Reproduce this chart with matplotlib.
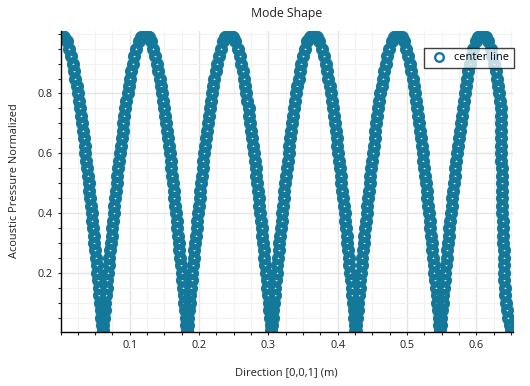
import matplotlib
matplotlib.use("Agg")
import matplotlib.pyplot as plt
from matplotlib.lines import Line2D
from matplotlib.ticker import FixedLocator, MultipleLocator

# pressure levels read along each branch (falling: peak -> node, rising: node -> peak)
p_fall = [1.0, 0.99, 0.975, 0.95, 0.925, 0.9, 0.875, 0.85, 0.825, 0.8, 0.775, 0.75,
          0.725, 0.7, 0.675, 0.65, 0.625, 0.6, 0.575, 0.55, 0.525, 0.5, 0.475, 0.45,
          0.425, 0.4, 0.375, 0.35, 0.325, 0.3, 0.275, 0.25, 0.225, 0.2, 0.175, 0.15,
          0.125, 0.1, 0.075, 0.05, 0.025, 0.005]
p_rise = [0.005, 0.025, 0.05, 0.075, 0.1, 0.125, 0.15, 0.175, 0.2, 0.225, 0.25, 0.275,
          0.3, 0.325, 0.35, 0.375, 0.4, 0.425, 0.45, 0.475, 0.5, 0.525, 0.55, 0.575,
          0.6, 0.625, 0.65, 0.675, 0.7, 0.725, 0.75, 0.775, 0.8, 0.825, 0.85, 0.875,
          0.9, 0.925, 0.95, 0.975, 0.99]

# positions along the center line (m), lobe by lobe
z_lobe1 = [0.0000, 0.0055, 0.0087, 0.0123, 0.0151, 0.0175, 0.0196, 0.0215, 0.0233, 0.0249,
           0.0265, 0.0280, 0.0294, 0.0308, 0.0321, 0.0334, 0.0347, 0.0359, 0.0371, 0.0383,
           0.0394, 0.0405, 0.0417, 0.0427, 0.0438, 0.0449, 0.0459, 0.0470, 0.0480, 0.0490,
           0.0500, 0.0510, 0.0520, 0.0530, 0.0540, 0.0550, 0.0560, 0.0569, 0.0579, 0.0589,
           0.0598, 0.0606,
           0.0610, 0.0618, 0.0627, 0.0637, 0.0647, 0.0656, 0.0666, 0.0676, 0.0686, 0.0696,
           0.0706, 0.0716, 0.0726, 0.0736, 0.0746, 0.0757, 0.0767, 0.0778, 0.0789, 0.0799,
           0.0811, 0.0822, 0.0833, 0.0845, 0.0857, 0.0869, 0.0882, 0.0895, 0.0908, 0.0922,
           0.0936, 0.0951, 0.0967, 0.0983, 0.1001, 0.1020, 0.1041, 0.1065, 0.1093, 0.1129,
           0.1161]
z_lobe2 = [0.1216, 0.1271, 0.1303, 0.1339, 0.1367, 0.1391, 0.1412, 0.1431, 0.1449, 0.1465,
           0.1481, 0.1496, 0.1510, 0.1524, 0.1537, 0.1550, 0.1563, 0.1575, 0.1587, 0.1599,
           0.1610, 0.1621, 0.1633, 0.1643, 0.1654, 0.1665, 0.1675, 0.1686, 0.1696, 0.1706,
           0.1716, 0.1726, 0.1736, 0.1746, 0.1756, 0.1766, 0.1776, 0.1785, 0.1795, 0.1805,
           0.1814, 0.1822,
           0.1826, 0.1834, 0.1843, 0.1853, 0.1863, 0.1872, 0.1882, 0.1892, 0.1902, 0.1912,
           0.1922, 0.1932, 0.1942, 0.1952, 0.1962, 0.1973, 0.1983, 0.1994, 0.2005, 0.2015,
           0.2027, 0.2038, 0.2049, 0.2061, 0.2073, 0.2085, 0.2098, 0.2111, 0.2124, 0.2138,
           0.2152, 0.2167, 0.2183, 0.2199, 0.2217, 0.2236, 0.2257, 0.2281, 0.2309, 0.2345,
           0.2377]
z_lobe3 = [0.2432, 0.2487, 0.2519, 0.2555, 0.2583, 0.2607, 0.2628, 0.2647, 0.2665, 0.2681,
           0.2697, 0.2712, 0.2726, 0.2740, 0.2753, 0.2766, 0.2779, 0.2791, 0.2803, 0.2815,
           0.2826, 0.2837, 0.2849, 0.2859, 0.2870, 0.2881, 0.2891, 0.2902, 0.2912, 0.2922,
           0.2932, 0.2942, 0.2952, 0.2962, 0.2972, 0.2982, 0.2992, 0.3001, 0.3011, 0.3021,
           0.3030, 0.3038,
           0.3042, 0.3050, 0.3059, 0.3069, 0.3079, 0.3088, 0.3098, 0.3108, 0.3118, 0.3128,
           0.3138, 0.3148, 0.3158, 0.3168, 0.3178, 0.3189, 0.3199, 0.3210, 0.3221, 0.3231,
           0.3243, 0.3254, 0.3265, 0.3277, 0.3289, 0.3301, 0.3314, 0.3327, 0.3340, 0.3354,
           0.3368, 0.3383, 0.3399, 0.3415, 0.3433, 0.3452, 0.3473, 0.3497, 0.3525, 0.3561,
           0.3593]
z_lobe4 = [0.3648, 0.3703, 0.3735, 0.3771, 0.3799, 0.3823, 0.3844, 0.3863, 0.3881, 0.3897,
           0.3913, 0.3928, 0.3942, 0.3956, 0.3969, 0.3982, 0.3995, 0.4007, 0.4019, 0.4031,
           0.4042, 0.4053, 0.4065, 0.4075, 0.4086, 0.4097, 0.4107, 0.4118, 0.4128, 0.4138,
           0.4148, 0.4158, 0.4168, 0.4178, 0.4188, 0.4198, 0.4208, 0.4217, 0.4227, 0.4237,
           0.4246, 0.4254,
           0.4258, 0.4266, 0.4275, 0.4285, 0.4295, 0.4304, 0.4314, 0.4324, 0.4334, 0.4344,
           0.4354, 0.4364, 0.4374, 0.4384, 0.4394, 0.4405, 0.4415, 0.4426, 0.4437, 0.4447,
           0.4459, 0.4470, 0.4481, 0.4493, 0.4505, 0.4517, 0.4530, 0.4543, 0.4556, 0.4570,
           0.4584, 0.4599, 0.4615, 0.4631, 0.4649, 0.4668, 0.4689, 0.4713, 0.4741, 0.4777,
           0.4809]
z_lobe5 = [0.4864, 0.4919, 0.4951, 0.4987, 0.5015, 0.5039, 0.5060, 0.5079, 0.5097, 0.5113,
           0.5129, 0.5144, 0.5158, 0.5172, 0.5185, 0.5198, 0.5211, 0.5223, 0.5235, 0.5247,
           0.5258, 0.5269, 0.5281, 0.5291, 0.5302, 0.5313, 0.5323, 0.5334, 0.5344, 0.5354,
           0.5364, 0.5374, 0.5384, 0.5394, 0.5404, 0.5414, 0.5424, 0.5433, 0.5443, 0.5453,
           0.5462, 0.5470,
           0.5474, 0.5482, 0.5491, 0.5501, 0.5511, 0.5520, 0.5530, 0.5540, 0.5550, 0.5560,
           0.5570, 0.5580, 0.5590, 0.5600, 0.5610, 0.5621, 0.5631, 0.5642, 0.5653, 0.5663,
           0.5675, 0.5686, 0.5697, 0.5709, 0.5721, 0.5733, 0.5746, 0.5759, 0.5772, 0.5786,
           0.5800, 0.5815, 0.5831, 0.5847, 0.5865, 0.5884, 0.5905, 0.5929, 0.5957, 0.5993,
           0.6025]
# last peak and the steep drop at the end of the line
z_end = [0.6080, 0.6135, 0.6167, 0.6203, 0.6231, 0.6255, 0.6276, 0.6295, 0.6313, 0.6329,
         0.6345, 0.6350, 0.6352, 0.6354, 0.6355, 0.6357, 0.6359, 0.6360, 0.6361, 0.6362,
         0.6363, 0.6365, 0.6367, 0.6369, 0.6371, 0.6374, 0.6377, 0.6380, 0.6384, 0.6387,
         0.6390, 0.6393, 0.6396, 0.6399, 0.6402, 0.6405, 0.6410, 0.6422, 0.6438, 0.6456,
         0.6478, 0.6505]

x_ticks = [0.1, 0.2, 0.3, 0.4, 0.5, 0.6]
y_ticks = [0.2, 0.4, 0.6, 0.8]

z = z_lobe1 + z_lobe2 + z_lobe3 + z_lobe4 + z_lobe5 + z_end
p = (p_fall + p_rise) * 5 + p_fall
assert len(z) == len(p)

W, H = 530, 386
plt.rcParams['font.family'] = ['Open Sans', 'DejaVu Sans']
fig = plt.figure(figsize=(W / 100, H / 100), dpi=100)
ax = fig.add_axes([60.5 / W, 1 - 331.5 / H, (513 - 60.5) / W, (331.5 - 31) / H])

teal = '#14789a'
txt = '#222222'
ax.plot(z, p, linestyle='none', marker='o', markersize=5.4, markerfacecolor='none',
        markeredgecolor=teal, markeredgewidth=4.0)

ax.set_xlim(0, 0.6527)
ax.set_ylim(0.004, 1.009)

ax.xaxis.set_major_locator(FixedLocator(x_ticks))
ax.yaxis.set_major_locator(FixedLocator(y_ticks))
ax.xaxis.set_minor_locator(MultipleLocator(0.025))
ax.yaxis.set_minor_locator(MultipleLocator(0.05))
ax.set_xticklabels([f"{v:.1f}" for v in x_ticks])
ax.set_yticklabels([f"{v:.1f}" for v in y_ticks])

ax.set_axisbelow(True)
ax.grid(True, which='major', color='#e4e4e4', linewidth=1.0)
ax.grid(True, which='minor', color='#f2f2f2', linewidth=0.8)

for s in ['top', 'right']:
    ax.spines[s].set_visible(False)
for s in ['left', 'bottom']:
    ax.spines[s].set_color('black')
    ax.spines[s].set_linewidth(1.0)

ax.tick_params(which='both', direction='out', length=2.5, width=0.8, color=txt)
ax.tick_params(which='major', labelsize=7.8, labelcolor=txt, pad=3.5)

cx = (60.5 + 513) / 2 / W
fig.text(cx, 1 - 13.5 / H, 'Mode Shape', ha='center', va='center', fontsize=8.8, color=txt)
fig.text(cx, 1 - 373 / H, 'Direction [0,0,1] (m)', ha='center', va='center', fontsize=8, color=txt)
fig.text(15 / W, 1 - 181 / H, 'Acoustic Pressure Normalized', ha='center', va='center',
         rotation=90, fontsize=7.9, color=txt)

# legend handle drawn with a thinner ring, like the reference
handle = Line2D([], [], linestyle='none', marker='o', markersize=6.2, markerfacecolor='none',
                markeredgecolor=teal, markeredgewidth=1.7)
leg = ax.legend([handle], ['center line'], loc='upper right',
                bbox_to_anchor=(514 / W, 1 - 47.5 / H), bbox_transform=fig.transFigure,
                borderaxespad=0, fancybox=False, framealpha=0.75, edgecolor='black',
                fontsize=7.9, handlelength=1.8, handletextpad=0.5, borderpad=0.45)
leg.get_frame().set_linewidth(1.0)

fig.savefig('out.png', dpi=100)
